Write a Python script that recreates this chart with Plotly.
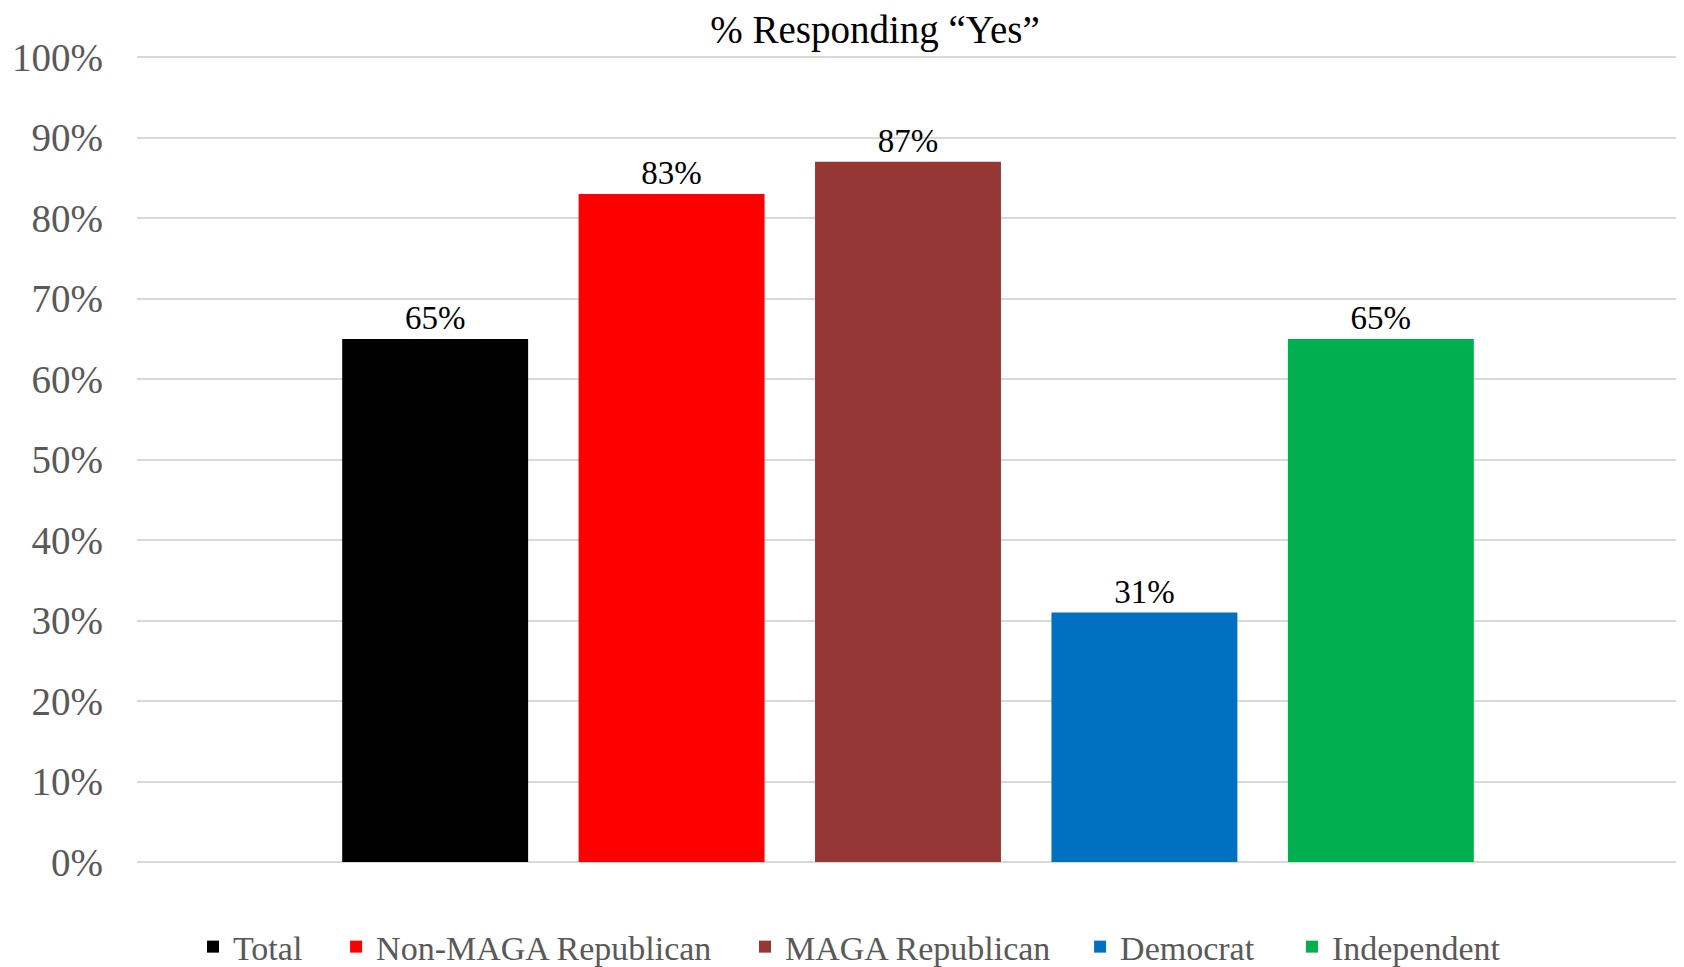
import plotly.graph_objects as go

categories = ["Total", "Non-MAGA Republican", "MAGA Republican", "Democrat", "Independent"]
values = [0.65, 0.83, 0.87, 0.31, 0.65]
colors = ["#000000", "#FF0000", "#953735", "#0070C0", "#00B050"]
title_text = "% Responding \u201cYes\u201d"

FONT = "Georgia, 'Liberation Serif', 'Times New Roman', serif"

# The page body has an 8px default margin; size the figure so it fits the window.
PAGE_OFFSET = 8
W, H = 1684 - PAGE_OFFSET, 967 - PAGE_OFFSET

# left edges of each legend entry, in paper fraction of the plot width
legend_x = [0.0363, 0.1291, 0.3943, 0.6116, 0.7490]
legend_ids = ["legend", "legend2", "legend3", "legend4", "legend5"]

fig = go.Figure()
for name, v, c, lid in zip(categories, values, colors, legend_ids):
    fig.add_trace(go.Bar(
        x=[""], y=[v], name=name, legend=lid,
        marker=dict(color=c, line=dict(width=0)),
        text=[f"{round(v*100)}%"], textposition="outside",
        textfont=dict(family=FONT, size=33, color="#000000"),
        cliponaxis=False,
    ))

legend_layout = {}
for lid, lx in zip(legend_ids, legend_x):
    legend_layout[lid] = dict(orientation="h", x=lx, xref="paper", xanchor="left",
                              y=-0.1055, yref="paper", yanchor="middle",
                              font=dict(family=FONT, size=34, color="#595959"),
                              itemwidth=30, bgcolor="rgba(0,0,0,0)")

fig.update_layout(
    width=W, height=H,
    paper_bgcolor="white", plot_bgcolor="white",
    barmode="group", bargap=0.2334, bargroupgap=0.2136,
    margin=dict(l=137 - PAGE_OFFSET, r=5, t=56 - PAGE_OFFSET, b=105, autoexpand=False),
    title=dict(text=title_text, x=(875 - PAGE_OFFSET) / W, xref="container", xanchor="center",
               y=1.0, yref="container", yanchor="top", pad=dict(t=8),
               font=dict(family=FONT, size=39, color="#000000")),
    showlegend=True,
    **legend_layout,
)
fig.update_xaxes(showticklabels=False, showgrid=False, zeroline=False, showline=False,
                 automargin=False)
fig.update_yaxes(range=[0, 1.0015], tickvals=[i/10 for i in range(11)], tickformat=".0%",
                 showgrid=True, gridcolor="#d9d9d9", gridwidth=1.5,
                 zeroline=True, zerolinecolor="#d9d9d9", zerolinewidth=1.5,
                 showline=False, ticks="", ticklabelstandoff=33, automargin=False,
                 tickfont=dict(family=FONT, size=39, color="#595959"))

fig.write_html("out.html")
